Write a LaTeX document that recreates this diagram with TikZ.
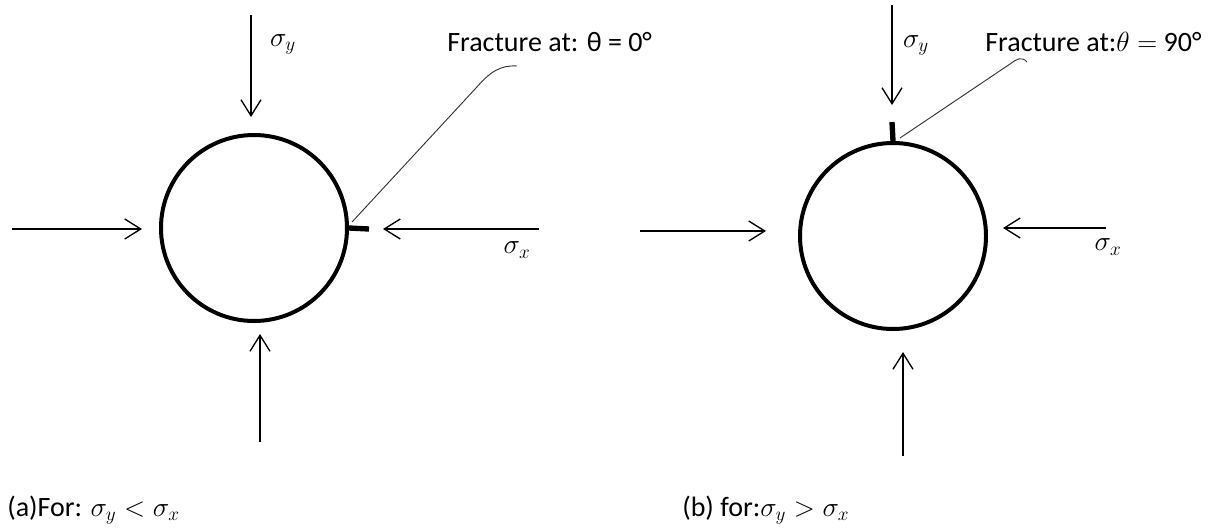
\documentclass[tikz,border=0pt]{standalone}
\usepackage{fontspec}
\setmainfont{Carlito}
\usetikzlibrary{arrows.meta}
\begin{document}
\begin{tikzpicture}[x=0.75pt,y=-0.75pt,
  ring/.style={circle,draw,line width=3pt,minimum size=186*0.75pt,inner sep=0pt},
  force/.style={line width=1pt,-{Straight Barb[length=12pt,width=15pt,line width=1pt]}},
  crack/.style={line width=4pt},
  leader/.style={line width=0.7pt,draw=black!80},
  lbl/.style={inner sep=0pt,font=\fontsize{21}{25}\selectfont}]
\useasboundingbox (0,0) rectangle (1231,529);
% ---- (a)
\node[ring] (A) at (254,228) {};
\coordinate (At0) at (251,15);   \coordinate (At1) at (251,117);
\coordinate (Al0) at (12,229);   \coordinate (Al1) at (142,229);
\coordinate (Ar0) at (539,229);  \coordinate (Ar1) at (383,229);
\coordinate (Ab0) at (260,442);  \coordinate (Ab1) at (260,334);
\coordinate (Am1) at (369,229);
\draw[force] (At0) -- (At1);
\draw[force] (Al0) -- (Al1);
\draw[force] (Ar0) -- (Ar1);
\draw[force] (Ab0) -- (Ab1);
\draw[crack] (A.east) -- (Am1);
\node[lbl] (Asy) at (283,44) {$\sigma_y$};
\node[lbl] (Asx) at (517,250) {$\sigma_x$};
\node[lbl,anchor=west] (Af) at (447,42) {Fracture at: θ = 0°};
\coordinate (Ae) at (517,66);
\draw[leader] (352,222) -- (476,88) .. controls (490,72) and (500,65) .. (Ae);
\node[lbl,anchor=west] (Acap) at (7,510) {(a)For: $\sigma_y < \sigma_x$};
% ---- (b)
\node[ring] (B) at (893,236) {};
\coordinate (Bt0) at (892,5);    \coordinate (Bt1) at (892,105);
\coordinate (Bl0) at (640,231);  \coordinate (Bl1) at (766,231);
\coordinate (Br0) at (1106,228); \coordinate (Br1) at (1003,228);
\coordinate (Bb0) at (903,456);  \coordinate (Bb1) at (903,352);
\coordinate (Bm1) at (892,122);
\draw[force] (Bt0) -- (Bt1);
\draw[force] (Bl0) -- (Bl1);
\draw[force] (Br0) -- (Br1);
\draw[force] (Bb0) -- (Bb1);
\draw[crack] (B.north) -- (Bm1);
\node[lbl] (Bsy) at (916,45) {$\sigma_y$};
\node[lbl] (Bsx) at (1108,247) {$\sigma_x$};
\node[lbl,anchor=west] (Bf) at (985,42) {Fracture at:$\theta = $ 90°};
\coordinate (Be) at (1027,62);
\draw[leader] (900,138) -- (1010,64) .. controls (1017,59) and (1022,56) .. (Be);
\node[lbl,anchor=west] (Bcap) at (682,510) {(b) for:$\sigma_y > \sigma_x$};
\end{tikzpicture}
\end{document}
